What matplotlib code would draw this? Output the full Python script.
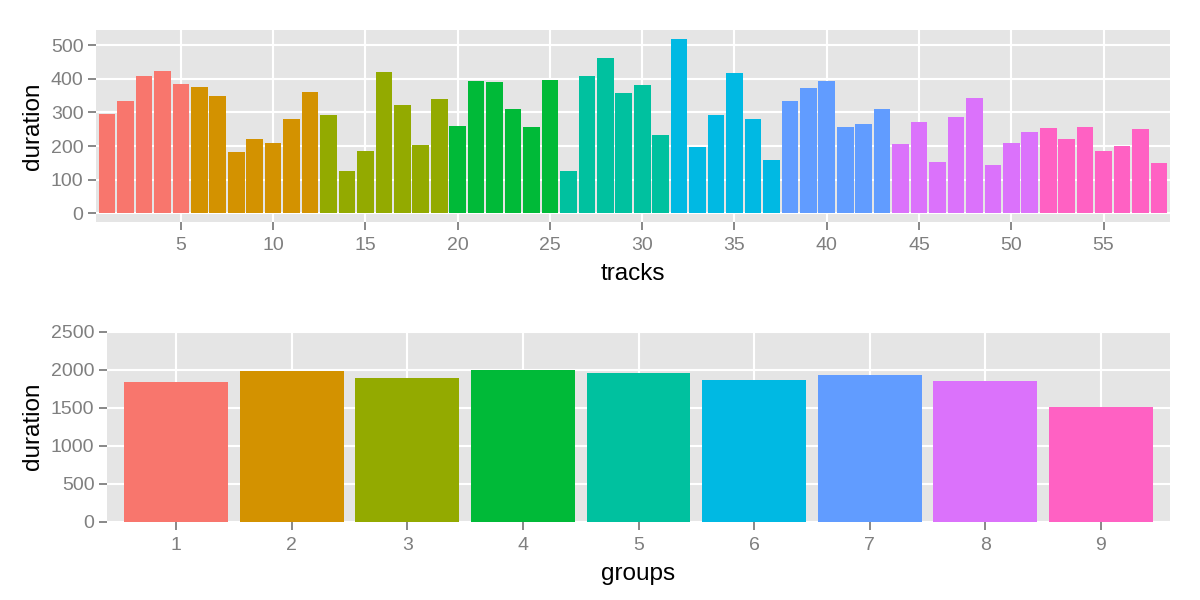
import matplotlib
matplotlib.use("Agg")
import matplotlib.pyplot as plt
import numpy as np
import pandas as pd

# durations per track
durations = [
    295, 333, 407, 422, 384,
    375, 348, 182, 222, 210, 280, 362,
    292, 125, 185, 420, 323, 202, 339,
    259, 393, 390, 309, 256, 396,
    125, 407, 461, 357, 380, 232,
    519, 197, 292, 416, 280, 158,
    334, 372, 393, 256, 265, 310,
    207, 271, 152, 286, 342, 143, 208, 241,
    253, 220, 256, 185, 199, 250, 149,
]
group_sizes = [5, 7, 7, 6, 6, 6, 6, 8, 7]
group_ids = [g + 1 for g, n in enumerate(group_sizes) for _ in range(n)]
tracks = list(range(1, len(durations) + 1))

# ggplot hue palette, 9 levels
hue = ["#F8766D", "#D39200", "#93AA00", "#00BA38", "#00C19F",
       "#00B9E3", "#619CFF", "#DB72FB", "#FF61C3"]

df = pd.DataFrame({"track": tracks, "duration": durations, "group": group_ids})
totals = df.groupby("group")["duration"].sum()

plt.rcParams["font.family"] = ["Liberation Sans", "DejaVu Sans"]

BG = "#E5E5E5"
TXT = "#7F7F7F"


def style(ax):
    ax.set_facecolor(BG)
    for s in ax.spines.values():
        s.set_visible(False)
    ax.set_axisbelow(True)
    ax.grid(True, color="white", linewidth=1.5)
    ax.tick_params(colors=TXT, labelsize=14, length=6, width=1.3)
    ax.tick_params(axis="x", pad=5)
    ax.tick_params(axis="y", pad=3)
    for lab in ax.get_xticklabels() + ax.get_yticklabels():
        lab.set_color(TXT)


fig = plt.figure(figsize=(12, 6), dpi=100)

# top: one bar per track
ax1 = fig.add_axes([96 / 1200, 1 - 222 / 600, 1074 / 1200, 192 / 600])
ax1.bar(df["track"], df["duration"], width=0.9,
        color=[hue[g - 1] for g in df["group"]])
ax1.set_xlim(0.4, len(tracks) + 0.6)
ymax = max(durations)
ax1.set_ylim(-0.05 * ymax, 1.05 * ymax)
ax1.set_xticks(range(5, 56, 5))
ax1.set_yticks(range(0, 501, 100))
style(ax1)
ax1.set_xlabel("tracks", fontsize=17.5, labelpad=6)
ax1.set_ylabel("duration", fontsize=17.5, labelpad=5)

# bottom: totals per group
ax2 = fig.add_axes([107 / 1200, 1 - 522 / 600, 1063 / 1200, 191 / 600])
ax2.bar(totals.index, totals.values, width=0.9,
        color=[hue[g - 1] for g in totals.index])
ax2.set_xlim(0.4, len(group_sizes) + 0.6)
ax2.set_ylim(0, 2510)
ax2.set_xticks(list(totals.index))
ax2.set_yticks(range(0, 2501, 500))
style(ax2)
ax2.set_xlabel("groups", fontsize=17.5, labelpad=6)
ax2.set_ylabel("duration", fontsize=17.5, labelpad=5)

fig.savefig("out.png", dpi=100)
